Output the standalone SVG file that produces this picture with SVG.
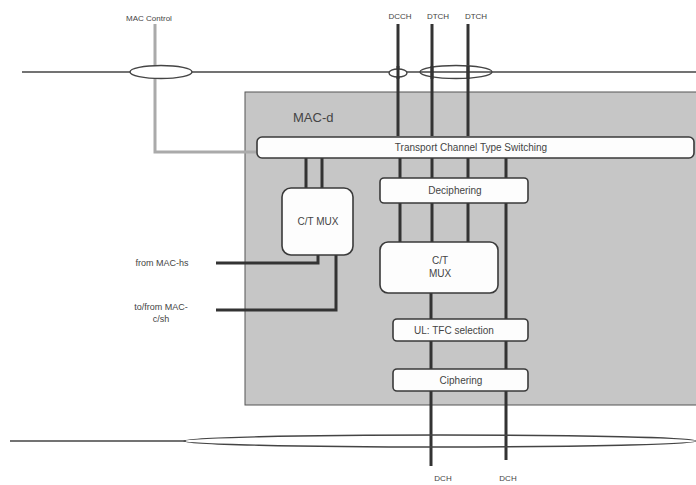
<svg xmlns="http://www.w3.org/2000/svg" width="696" height="485" viewBox="0 0 696 485">
<style>
.t{font-family:"Liberation Sans",Arial,sans-serif;fill:#444}
.box{fill:#fdfdfd;stroke:#3a3a3a;stroke-width:1.6}
.ch{stroke:#333;stroke-width:3;fill:none}
.thin{stroke:#444;stroke-width:1.6;fill:none}
</style>
<rect width="696" height="485" fill="#fff"/>
<g id="macd">
<rect x="245" y="92" width="452" height="313" fill="#c6c6c6" stroke="#555" stroke-width="1"/>
<text class="t" x="293" y="122" font-size="13">MAC-d</text>
</g>
<g id="connectors">
<line x1="22" y1="72" x2="696" y2="72" class="thin"/>
<polyline points="155,24 155,152 256,152" stroke="#aaa" stroke-width="3" fill="none"/>
<ellipse cx="161" cy="72" rx="31" ry="6.5" fill="#fff" stroke="#444" stroke-width="1.4"/>
<line x1="398" y1="24" x2="398" y2="136" class="ch"/>
<line x1="432" y1="24" x2="432" y2="136" class="ch"/>
<line x1="468" y1="24" x2="468" y2="136" class="ch"/>
<ellipse cx="398" cy="73" rx="9" ry="4" fill="#fff" stroke="#444" stroke-width="1.4"/>
<ellipse cx="456" cy="72" rx="36" ry="6.5" fill="none" stroke="#444" stroke-width="1.4"/>
<line x1="398" y1="66" x2="398" y2="79" class="ch"/>
<line x1="432" y1="66" x2="432" y2="79" class="ch"/>
<line x1="468" y1="66" x2="468" y2="79" class="ch"/>
<line x1="306" y1="158" x2="306" y2="188" class="ch"/>
<line x1="322" y1="158" x2="322" y2="188" class="ch"/>
<line x1="400" y1="158" x2="400" y2="178" class="ch"/>
<line x1="432" y1="158" x2="432" y2="178" class="ch"/>
<line x1="468" y1="158" x2="468" y2="178" class="ch"/>
<line x1="506" y1="158" x2="506" y2="460" class="ch"/>
<line x1="400" y1="203" x2="400" y2="242" class="ch"/>
<line x1="432" y1="203" x2="432" y2="242" class="ch"/>
<line x1="468" y1="203" x2="468" y2="242" class="ch"/>
<line x1="431" y1="293" x2="431" y2="466" class="ch"/>
<polyline points="318,255 318,263 216,263" class="ch"/>
<polyline points="336,255 336,310 216,310" class="ch"/>
<line x1="10" y1="441" x2="186" y2="441" class="thin"/>
<ellipse cx="440" cy="441" rx="256" ry="6" fill="none" stroke="#444" stroke-width="1.4"/>
<line x1="431" y1="434" x2="431" y2="448" stroke="#fff" stroke-width="0"/>
</g>
<g id="label-maccontrol"><text class="t" x="149" y="21" font-size="8" text-anchor="middle">MAC Control</text></g>
<g id="label-dcch"><text class="t" x="400" y="19" font-size="8" text-anchor="middle">DCCH</text></g>
<g id="label-dtch1"><text class="t" x="438" y="19" font-size="8" text-anchor="middle">DTCH</text></g>
<g id="label-dtch2"><text class="t" x="476" y="19" font-size="8" text-anchor="middle">DTCH</text></g>
<g id="tcts">
<rect class="box" x="257" y="137" width="437" height="21" rx="5"/>
<text class="t" x="471" y="151" font-size="10" text-anchor="middle">Transport Channel Type Switching</text>
</g>
<g id="ctmux-left">
<rect class="box" x="282" y="188" width="71" height="67" rx="9"/>
<text class="t" x="318" y="225" font-size="10" text-anchor="middle">C/T MUX</text>
</g>
<g id="deciphering">
<rect class="box" x="380" y="178" width="148" height="25" rx="4"/>
<text class="t" x="455" y="194" font-size="10" text-anchor="middle">Deciphering</text>
</g>
<g id="ctmux-center">
<rect class="box" x="380" y="242" width="118" height="51" rx="8"/>
<text class="t" x="440" y="264" font-size="10" text-anchor="middle">C/T</text>
<text class="t" x="440" y="277" font-size="10" text-anchor="middle">MUX</text>
</g>
<g id="tfc">
<rect class="box" x="393" y="319" width="135" height="22" rx="4"/>
<text class="t" x="454" y="334" font-size="10" text-anchor="middle">UL: TFC selection</text>
</g>
<g id="ciphering">
<rect class="box" x="393" y="369" width="135" height="22" rx="4"/>
<text class="t" x="461" y="384" font-size="10" text-anchor="middle">Ciphering</text>
</g>
<g id="label-frommachs"><text class="t" x="162" y="266" font-size="9" text-anchor="middle">from MAC-hs</text></g>
<g id="label-tofrom"><text class="t" x="161" y="310" font-size="9" text-anchor="middle">to/from MAC-</text><text class="t" x="161" y="322" font-size="9" text-anchor="middle">c/sh</text></g>
<g id="label-dch1"><text class="t" x="443" y="481" font-size="8" text-anchor="middle">DCH</text></g>
<g id="label-dch2"><text class="t" x="508" y="481" font-size="8" text-anchor="middle">DCH</text></g>
</svg>
